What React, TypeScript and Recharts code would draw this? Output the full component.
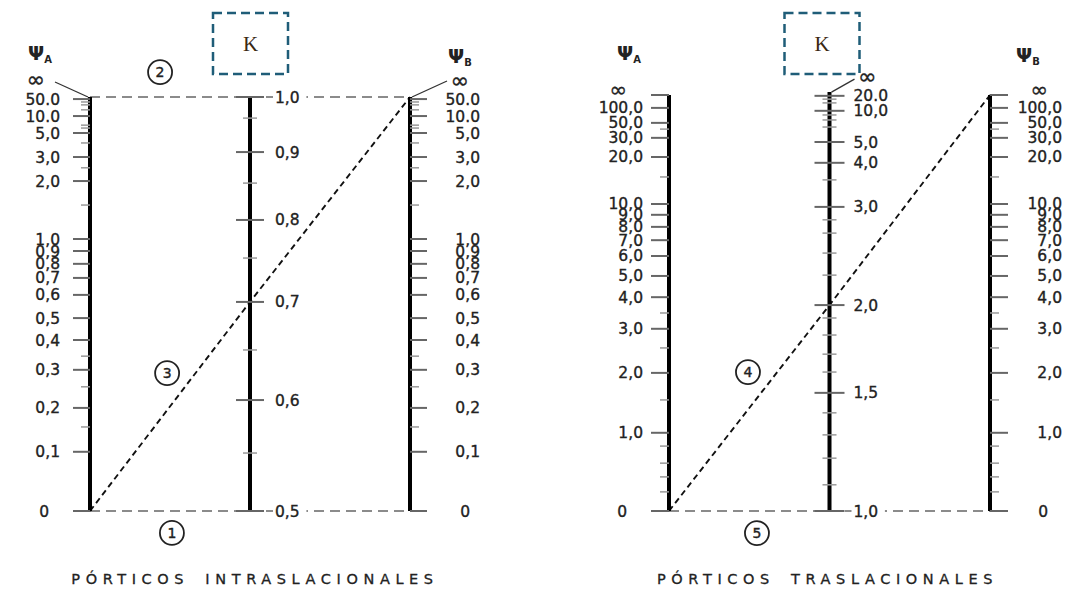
import React from 'react';
import { ComposedChart, Scatter, XAxis, YAxis } from 'recharts';

const W = 1081;
const H = 591;
const FONT = '"DejaVu Sans", Verdana, sans-serif';
const INK = '#222';

// scale readings: 0 = foot of the scale, 1 = top
const psiBracedLabels = ['∞', '50.0', '10.0', '5,0', '3,0', '2,0', '1,0', '0,9', '0,8', '0,7', '0,6', '0,5', '0,4', '0,3', '0,2', '0,1', '0'];
const psiBracedPos = [1, 0.995, 0.954, 0.913, 0.855, 0.797, 0.657, 0.628, 0.597, 0.563, 0.522, 0.466, 0.413, 0.341, 0.249, 0.143, 0];
const psiBracedMinor = [0.988, 0.981, 0.969, 0.932, 0.925, 0.889, 0.829, 0.739, 0.374, 0.3, 0.203];

const kBracedLabels = ['1,0', '0,9', '0,8', '0,7', '0,6', '0,5'];
const kBracedPos = [1, 0.867, 0.703, 0.505, 0.268, 0];
const kBracedMinor = [0.949, 0.792, 0.611, 0.389, 0.14];

const psiSwayLabels = ['∞', '100,0', '50,0', '30,0', '20,0', '10,0', '9,0', '8,0', '7,0', '6,0', '5,0', '4,0', '3,0', '2,0', '1,0', '0'];
const psiSwayPos = [1, 0.969, 0.933, 0.897, 0.851, 0.738, 0.712, 0.683, 0.651, 0.613, 0.565, 0.514, 0.438, 0.332, 0.188, 0];
const psiSwayMinor = [0.918, 0.803, 0.476, 0.392, 0.267, 0.156, 0.115, 0.082, 0.046];

const kSwayLabels = ['∞', '20.0', '10,0', '5,0', '4,0', '3,0', '2,0', '1,5', '1,0'];
const kSwayPos = [1.007, 0.998, 0.962, 0.887, 0.837, 0.731, 0.495, 0.284, 0];
const kSwayMinor = [0.99, 0.981, 0.952, 0.94, 0.923, 0.796, 0.7, 0.668, 0.62, 0.567, 0.464, 0.423, 0.377, 0.334, 0.236, 0.183, 0.127, 0.063];

// example readings drawn on each chart (ΨA, K, ΨB)
const bracedGuides = [
  { id: '1', a: '0', k: '0,5', b: '0' },
  { id: '2', a: '∞', k: '1,0', b: '∞' },
  { id: '3', a: '0', k: '0,7', b: '∞' },
];
const swayGuides = [
  { id: '4', a: '0', k: '2,0', b: '∞' },
  { id: '5', a: '0', k: '1,0', b: '0' },
];

const bracedMarks = [
  { n: '1', x: 0.256, y: -0.053 },
  { n: '2', x: 0.219, y: 1.06 },
  { n: '3', x: 0.241, y: 0.333 },
];
const swayMarks = [
  { n: '4', x: 0.246, y: 0.334 },
  { n: '5', x: 0.274, y: -0.053 },
];

const horiz = { stroke: '#666', strokeWidth: 1.7, strokeDasharray: '10 6' };
const diag = { stroke: '#111', strokeWidth: 1.9, strokeDasharray: '6 4' };
const guideStyle: Record<string, any> = { '1': horiz, '2': horiz, '3': diag, '4': diag, '5': horiz };

type Side = 'left' | 'right' | 'both';
type ScaleStyle = {
  side: Side;
  major: number;
  minor: number;
  anchor: 'start' | 'end';
  labelDx: number;
  oddDx: number;
  halo?: boolean;
  inf?: { dx: number; dy: number; lx: number; ly: number };
  header?: { sub: string; dx: number; dy: number };
};

const tick = (cx: number, cy: number, len: number, side: Side, color: string, w: number) => {
  const [x1, x2] = side === 'left' ? [cx - len, cx] : side === 'right' ? [cx, cx + len] : [cx - len, cx + len];
  return <line x1={x1} x2={x2} y1={cy} y2={cy} stroke={color} strokeWidth={w} />;
};

const majorShape = (st: ScaleStyle) => (p: any) => {
  const { cx, cy, payload } = p;
  const label: string = payload.label;
  if (label === '∞' && st.inf) {
    const edge = st.side === 'left' ? -2 : 2;
    return (
      <g>
        <line x1={cx + st.inf.lx} y1={cy + st.inf.ly} x2={cx + edge} y2={cy} stroke="#333" strokeWidth={1.3} />
        <text x={cx + st.inf.dx} y={cy + st.inf.dy + 6} textAnchor="middle" fontSize={22} fill={INK} stroke={INK} strokeWidth={0.4} fontFamily={FONT}>∞</text>
      </g>
    );
  }
  const odd = label === '0' || label === '∞';
  const tx = cx + st.labelDx + (odd ? st.oddDx : 0);
  const ty = cy + 5.5 + (label === '∞' ? -4 : 0);
  const fs = label === '∞' ? 21 : 15.5;
  const w = label.length * 9.8 + 4;
  return (
    <g>
      {tick(cx, cy, st.major, st.side, '#666', 2)}
      {st.halo && <rect x={st.anchor === 'start' ? tx - 2 : tx - w + 2} y={cy - 7} width={w} height={14} fill="#fff" />}
      <text x={tx} y={ty} textAnchor={st.anchor} fontSize={fs} fill={INK} stroke={INK} strokeWidth={0.35} fontFamily={FONT}>
        {label}
      </text>
    </g>
  );
};

const none = () => <g />;

function scaleItems(key: string, axisX: number, labels: string[], pos: number[], minor: number[], st: ScaleStyle) {
  const top = Math.max(...pos);
  const items = [
    <Scatter key={key + '-axis'} data={[{ x: axisX, y: 0 }, { x: axisX, y: top }]} fill="#000" line={{ stroke: '#000', strokeWidth: 4 }} shape={none} isAnimationActive={false} />,
    <Scatter key={key + '-minor'} data={minor.map((y) => ({ x: axisX, y }))} shape={(p: any) => tick(p.cx, p.cy, st.minor, st.side, '#999', 1.5)} isAnimationActive={false} />,
    <Scatter key={key + '-major'} data={labels.map((label, i) => ({ x: axisX, y: pos[i], label }))} shape={majorShape(st)} isAnimationActive={false} />,
  ];
  if (st.header) {
    const h = st.header;
    items.push(
      <Scatter
        key={key + '-head'}
        data={[{ x: axisX, y: top }]}
        shape={(p: any) => (
          <text x={p.cx + h.dx} y={p.cy + h.dy} textAnchor="middle" fontFamily={FONT} fontWeight="bold" fontSize={19} fill={INK}>
            Ψ<tspan fontSize={10} dy={3}>{h.sub}</tspan>
          </text>
        )}
        isAnimationActive={false}
      />
    );
  }
  return items;
}

type Layout = { width: number; axisA: number; axisB: number; top: number; bottom: number };

type NomoProps = {
  lay: Layout;
  psiLabels: string[];
  psiPos: number[];
  psiMinor: number[];
  kLabels: string[];
  kPos: number[];
  kMinor: number[];
  guides: { id: string; a: string; k: string; b: string }[];
  marks: { n: string; x: number; y: number }[];
  styleA: ScaleStyle;
  styleB: ScaleStyle;
  styleK: ScaleStyle;
  box: { dx: number; dy: number };
  title: string;
  titleDx: number;
};

function Nomogram(props: NomoProps) {
  const { lay, psiLabels, psiPos, kLabels, kPos } = props;
  const ux = lay.axisB - lay.axisA;
  const uy = lay.bottom - lay.top;
  const xDomain = [-lay.axisA / ux, (lay.width - lay.axisA) / ux];
  const yDomain = [-(H - lay.bottom) / uy, lay.bottom / uy];
  const psiAt = (l: string) => psiPos[psiLabels.indexOf(l)];
  const kAt = (l: string) => kPos[kLabels.indexOf(l)];

  return (
    <ComposedChart width={lay.width} height={H} margin={{ top: 0, right: 0, bottom: 0, left: 0 }}>
      <XAxis type="number" dataKey="x" domain={xDomain} hide allowDataOverflow />
      <YAxis type="number" dataKey="y" domain={yDomain} hide allowDataOverflow />

      {props.guides.map((g) => (
        <Scatter
          key={'guide-' + g.id}
          data={[{ x: 0, y: psiAt(g.a) }, { x: 0.5, y: kAt(g.k) }, { x: 1, y: psiAt(g.b) }]}
          fill={guideStyle[g.id].stroke}
          line={guideStyle[g.id]}
          shape={none}
          isAnimationActive={false}
        />
      ))}

      {scaleItems('A', 0, psiLabels, psiPos, props.psiMinor, props.styleA)}
      {scaleItems('K', 0.5, kLabels, kPos, props.kMinor, props.styleK)}
      {scaleItems('B', 1, psiLabels, psiPos, props.psiMinor, props.styleB)}

      <Scatter
        data={props.marks}
        shape={(p: any) => (
          <g>
            <circle cx={p.cx} cy={p.cy} r={12} fill="#fff" stroke="#222" strokeWidth={1.8} />
            <text x={p.cx} y={p.cy + 5} textAnchor="middle" fontSize={14} fontFamily={FONT} fill={INK} stroke={INK} strokeWidth={0.4}>{p.payload.n}</text>
          </g>
        )}
        isAnimationActive={false}
      />

      <Scatter
        data={[{ x: 0.5, y: 1 }]}
        shape={(p: any) => (
          <g>
            <rect x={p.cx + props.box.dx} y={p.cy + props.box.dy} width={75} height={61} fill="none" stroke="#1f5d78" strokeWidth={2.5} strokeDasharray="9 5" />
            <text x={p.cx + props.box.dx + 37.5} y={p.cy + props.box.dy + 38} textAnchor="middle" fontSize={21} fontFamily='"Liberation Serif", "DejaVu Serif", serif' fill="#3a2812">K</text>
          </g>
        )}
        isAnimationActive={false}
      />

      <Scatter
        data={[{ x: 0.5, y: 0 }]}
        shape={(p: any) => (
          <text x={p.cx + props.titleDx} y={p.cy + 73} textAnchor="middle" fontSize={14.5} letterSpacing={5.6} wordSpacing={6} fontFamily={FONT} fill={INK} stroke={INK} strokeWidth={0.3}>
            {props.title}
          </text>
        )}
        isAnimationActive={false}
      />
    </ComposedChart>
  );
}

export default function App() {
  return (
    <div style={{ width: W, height: H, display: 'flex', background: '#fff' }}>
      <style>{'body{margin:0}'}</style>
      <Nomogram
        lay={{ width: 540, axisA: 90, axisB: 410, top: 97, bottom: 511 }}
        psiLabels={psiBracedLabels}
        psiPos={psiBracedPos}
        psiMinor={psiBracedMinor}
        kLabels={kBracedLabels}
        kPos={kBracedPos}
        kMinor={kBracedMinor}
        guides={bracedGuides}
        marks={bracedMarks}
        styleA={{ side: 'left', major: 17, minor: 9, anchor: 'end', labelDx: -30, oddDx: -11, inf: { dx: -54, dy: -16, lx: -35, ly: -15 }, header: { sub: 'A', dx: -50, dy: -37 } }}
        styleB={{ side: 'right', major: 17, minor: 9, anchor: 'end', labelDx: 70, oddDx: -10, inf: { dx: 50, dy: -15, lx: 37, ly: -16 }, header: { sub: 'B', dx: 50, dy: -34 } }}
        styleK={{ side: 'both', major: 14, minor: 7, anchor: 'start', labelDx: 25, oddDx: 0, halo: true }}
        box={{ dx: -37, dy: -84 }}
        title="PÓRTICOS INTRASLACIONALES"
        titleDx={5}
      />
      <Nomogram
        lay={{ width: 541, axisA: 129, axisB: 450, top: 95, bottom: 511 }}
        psiLabels={psiSwayLabels}
        psiPos={psiSwayPos}
        psiMinor={psiSwayMinor}
        kLabels={kSwayLabels}
        kPos={kSwayPos}
        kMinor={kSwayMinor}
        guides={swayGuides}
        marks={swayMarks}
        styleA={{ side: 'left', major: 18, minor: 9, anchor: 'end', labelDx: -26, oddDx: -16, header: { sub: 'A', dx: -40, dy: -35 } }}
        styleB={{ side: 'right', major: 18, minor: 9, anchor: 'end', labelDx: 72, oddDx: -14, header: { sub: 'B', dx: 38, dy: -33 } }}
        styleK={{ side: 'both', major: 15, minor: 7, anchor: 'start', labelDx: 24, oddDx: 0, halo: true, inf: { dx: 38, dy: -14, lx: 25, ly: -13 } }}
        box={{ dx: -45, dy: -82 }}
        title="PÓRTICOS TRASLACIONALES"
        titleDx={-2}
      />
    </div>
  );
}
